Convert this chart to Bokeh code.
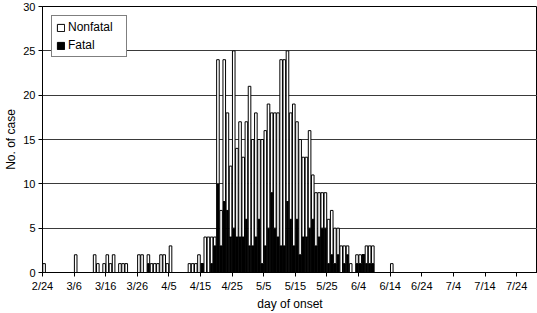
from bokeh.plotting import figure
from bokeh.models import Range1d, FixedTicker, Legend, LegendItem, ColumnDataSource
from bokeh.embed import file_html
from bokeh.resources import INLINE

# ---- data (one value per day, starting 2/24) ----
tick_labels = ["2/24", "3/6", "3/16", "3/26", "4/5", "4/15", "4/25", "5/5",
               "5/15", "5/25", "6/4", "6/14", "6/24", "7/4", "7/14", "7/24"]

total_cases = [
    1, 0, 0, 0, 0, 0, 0, 0, 0, 0,            # 2/24 - 3/5
    2, 0, 0, 0, 0, 0, 2, 1, 0, 1,            # 3/6 - 3/15
    2, 1, 2, 0, 1, 1, 1, 0, 0, 0,            # 3/16 - 3/25
    2, 2, 0, 2, 1, 1, 1, 2, 2, 1,            # 3/26 - 4/4
    3, 0, 0, 0, 0, 0, 1, 1, 1, 2,            # 4/5 - 4/14
    1, 4, 4, 4, 4, 24, 7, 24, 18, 12,        # 4/15 - 4/24
    25, 14, 17, 13, 17, 21, 15, 18, 15, 15,  # 4/25 - 5/4
    16, 19, 18, 18, 18, 24, 24, 25, 18, 19,  # 5/5 - 5/14
    17, 15, 13, 13, 16, 11, 9, 9, 9, 9,      # 5/15 - 5/24
    6, 7, 5, 5, 3, 3, 3, 1, 0, 2,            # 5/25 - 6/3
    2, 2, 3, 3, 3, 0, 0, 0, 0, 0,            # 6/4 - 6/13
    1, 0, 0, 0, 0, 0, 0, 0, 0, 0,            # 6/14 - 6/23
    0, 0, 0, 0, 0, 0, 0, 0, 0, 0,            # 6/24 - 7/3
    0, 0, 0, 0, 0, 0, 0, 0, 0, 0,            # 7/4 - 7/13
    0, 0, 0, 0, 0, 0, 0, 0, 0, 0,            # 7/14 - 7/23
    0, 0, 0, 0, 0, 0, 0, 0,                  # 7/24 - 7/31
]

fatal_cases = [
    0, 0, 0, 0, 0, 0, 0, 0, 0, 0,
    0, 0, 0, 0, 0, 0, 0, 0, 0, 0,
    0, 0, 0, 0, 0, 0, 0, 0, 0, 0,
    0, 0, 0, 1, 0, 0, 0, 0, 0, 0,
    0, 0, 0, 0, 0, 0, 0, 0, 0, 0,
    1, 0, 0, 1, 3, 10, 3, 8, 7, 4,
    5, 4, 4, 4, 6, 3, 3, 4, 6, 1,
    3, 5, 9, 5, 4, 3, 3, 8, 6, 3,
    6, 2, 4, 4, 5, 6, 3, 4, 5, 5,
    1, 2, 1, 2, 0, 1, 2, 0, 0, 1,
    1, 2, 1, 1, 1, 0, 0, 0, 0, 0,
    0, 0, 0, 0, 0, 0, 0, 0, 0, 0,
    0, 0, 0, 0, 0, 0, 0, 0, 0, 0,
    0, 0, 0, 0, 0, 0, 0, 0, 0, 0,
    0, 0, 0, 0, 0, 0, 0, 0, 0, 0,
    0, 0, 0, 0, 0, 0, 0, 0,
]

nonfatal_cases = [t - f for t, f in zip(total_cases, fatal_cases)]
day_index = list(range(len(total_cases)))
bar_x = [d + 0.5 for d in day_index]

src = ColumnDataSource(dict(x=bar_x, fatal=fatal_cases, nonfatal=nonfatal_cases))

FONT = "Liberation Sans"

p = figure(width=537, height=313, output_backend="svg", toolbar_location=None,
           x_range=Range1d(0, 156.6), y_range=Range1d(0, 30),
           min_border_left=42, min_border_right=0, min_border_top=6,
           min_border_bottom=20, background_fill_color="white",
           border_fill_color="white")

renderers = p.vbar_stack(["fatal", "nonfatal"], x="x", width=0.82, source=src,
                         fill_color=["black", "white"], line_color="black",
                         line_width=1)
r_fatal, r_nonfatal = renderers

p.outline_line_color = "black"
p.outline_line_width = 1

# grid
p.xgrid.visible = False
p.ygrid.ticker = FixedTicker(ticks=[5, 10, 15, 20, 25, 30])
p.ygrid.grid_line_color = "#3a3a3a"
p.ygrid.grid_line_width = 1

# y axis
p.yaxis.ticker = FixedTicker(ticks=[0, 5, 10, 15, 20, 25, 30])
p.yaxis.axis_label = "No. of case"
p.yaxis.axis_label_text_font = FONT
p.yaxis.axis_label_text_font_size = "12px"
p.yaxis.axis_label_text_font_style = "normal"
p.yaxis.axis_label_text_color = "black"
p.yaxis.axis_label_standoff = 2
p.yaxis.major_label_text_font = FONT
p.yaxis.major_label_text_font_size = "11px"
p.yaxis.major_label_text_color = "black"
p.yaxis.major_label_standoff = 3
p.yaxis.major_tick_out = 4
p.yaxis.major_tick_in = 0
p.yaxis.minor_tick_out = 0
p.yaxis.minor_tick_in = 0
p.yaxis.axis_line_color = "black"
p.yaxis.major_tick_line_color = "black"

# x axis
tick_pos = [i * 10 for i in range(len(tick_labels))]
p.xaxis.ticker = FixedTicker(ticks=tick_pos)
p.xaxis.major_label_overrides = {tp: lab for tp, lab in zip(tick_pos, tick_labels)}
p.xaxis.axis_label = "day of onset"
p.xaxis.axis_label_text_font = FONT
p.xaxis.axis_label_text_font_size = "12px"
p.xaxis.axis_label_text_font_style = "normal"
p.xaxis.axis_label_text_color = "black"
p.xaxis.axis_label_standoff = 2
p.xaxis.major_label_text_font = FONT
p.xaxis.major_label_text_font_size = "11px"
p.xaxis.major_label_text_color = "black"
p.xaxis.major_label_standoff = 3
p.xaxis.major_tick_out = 4
p.xaxis.major_tick_in = 0
p.xaxis.minor_tick_out = 0
p.xaxis.minor_tick_in = 0
p.xaxis.axis_line_color = "black"
p.xaxis.major_tick_line_color = "black"

legend = Legend(items=[LegendItem(label="Nonfatal", renderers=[r_nonfatal]),
                       LegendItem(label="Fatal", renderers=[r_fatal])],
                location="top_left", margin=9,
                border_line_color="black", border_line_width=1,
                background_fill_color="white", background_fill_alpha=1.0,
                label_text_font=FONT, label_text_font_size="12px",
                label_text_color="black", glyph_width=9, glyph_height=9,
                label_height=12, label_standoff=3, spacing=4, padding=4,
                label_width=54)
p.add_layout(legend)

open("out.html", "w").write(file_html(p, INLINE))
